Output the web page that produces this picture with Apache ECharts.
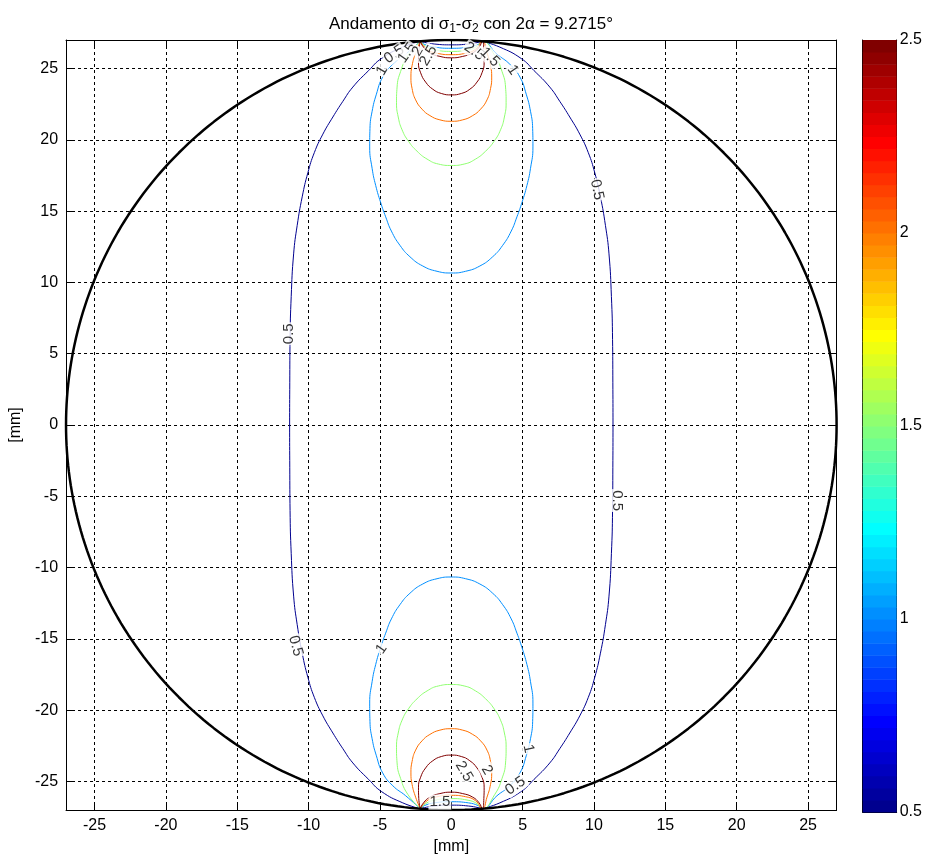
<!DOCTYPE html>
<html>
<head>
<meta charset="utf-8">
<script src="https://cdn.jsdelivr.net/npm/echarts@6/dist/echarts.min.js"></script>
<style>
  html, body { margin: 0; padding: 0; background: #fff; }
  #chart { width: 926px; height: 860px; }
</style>
</head>
<body>
<div id="chart"></div>
<script>
// Disc geometry and axes (mm)
const DISC_RADIUS = 27;
const AXIS_MIN = -27;
const AXIS_MAX = 27;
const AXIS_TICKS = [-25, -20, -15, -10, -5, 0, 5, 10, 15, 20, 25];
const COLORBAR_TICKS = [0.5, 1, 1.5, 2, 2.5];
const COLOR_MIN = 0.5;
const COLOR_MAX = 2.5;

// Contour levels of sigma1 - sigma2
const LEVELS = [0.5, 1, 1.5, 2, 2.5];

// Contour traces in the first quadrant [x, y] (mm). "outer" branches run from the
// symmetry axis out to the edge of the loaded arc; "inner" branches are the shallow
// arcs just under the loaded surface.
const outer05 = [[11.33, 0], [11.32, 3], [11.3, 6], [11.22, 9], [11.05, 12], [10.8, 14], [10.45, 16],
  [10.05, 17.7], [9.6, 19.1], [9.0, 20.4], [8.3, 21.6], [7.6, 22.7], [6.9, 23.7], [5.8, 24.85],
  [4.9, 25.7], [3.4, 26.5], [2.18, 26.91]];
const outer10 = [[0, 10.66], [1.0, 10.78], [2.0, 11.15], [2.9, 11.8], [3.6, 12.6], [4.2, 13.6],
  [4.6, 14.6], [4.95, 15.6], [5.3, 16.8], [5.55, 18.0], [5.72, 19.5], [5.7, 20.8], [5.55, 22.0],
  [5.25, 23.2], [4.81, 24.4], [4.1, 25.3], [3.2, 26.0], [2.18, 26.91]];
const outer15 = [[0, 18.2], [0.9, 18.3], [1.7, 18.65], [2.4, 19.2], [3.0, 19.9], [3.45, 20.7],
  [3.72, 21.6], [3.84, 22.6], [3.8, 23.7], [3.55, 24.8], [3.05, 25.9], [2.18, 26.91]];
const outer20 = [[0, 21.3], [0.8, 21.4], [1.5, 21.7], [2.05, 22.15], [2.5, 22.8], [2.75, 23.6],
  [2.83, 24.4], [2.75, 25.2], [2.5, 26.1], [2.18, 26.91]];
const outer25 = [[0, 23.15], [0.7, 23.25], [1.3, 23.55], [1.8, 24.05], [2.15, 24.7], [2.3, 25.4],
  [2.28, 26.2], [2.18, 26.91]];

const inner05 = [[0, 26.66], [1.2, 26.72], [2.18, 26.91]];
const inner10 = [[0, 26.42], [1.2, 26.5], [1.9, 26.7], [2.18, 26.91]];
const inner15 = [[0, 26.2], [1.1, 26.3], [1.8, 26.55], [2.18, 26.91]];
const inner20 = [[0, 25.97], [1.0, 26.07], [1.7, 26.35], [2.18, 26.91]];
const inner25 = [[0, 25.75], [0.8, 25.85], [1.5, 26.1], [1.95, 26.5], [2.18, 26.91]];

// Contour labels: [x, y, text, rotation in degrees]
const contourLabels = [
  [-4.85, 24.85, '1', 60], [-4.0, 26.0, '0.5', 35], [-3.1, 26.1, '1.5', 55],
  [-2.35, 26.2, '2', 60], [-1.6, 25.9, '2.5', 60],
  [1.6, 26.2, '2.5', -35], [2.7, 25.8, '1.5', -45], [4.3, 24.9, '1', -55],
  [-11.4, 6.4, '0.5', 90], [10.2, 16.5, '0.5', -78], [11.6, -5.3, '0.5', -90],
  [-10.9, -15.5, '0.5', -75], [-4.9, -15.7, '1', 55],
  [0.9, -24.3, '2.5', -60], [2.5, -24.2, '2', -60], [5.4, -22.7, '1', -78],
  [4.5, -25.3, '0.5', 35], [-0.8, -26.45, '1.5', 0]
];

// MATLAB-style jet colormap
function jet(m) {
  const n = Math.ceil(m / 4);
  const u = [];
  for (let i = 1; i <= n; i++) u.push(i / n);
  for (let i = 1; i < n; i++) u.push(1);
  for (let i = n; i >= 1; i--) u.push(i / n);
  const g0 = Math.ceil(n / 2) - (m % 4 === 1 ? 1 : 0);
  const cmap = Array.from({ length: m }, () => [0, 0, 0]);
  u.forEach((v, k) => {
    const g = g0 + k + 1, r = g + n, b = g - n;
    if (g >= 1 && g <= m) cmap[g - 1][1] = v;
    if (r >= 1 && r <= m) cmap[r - 1][0] = v;
    if (b >= 1 && b <= m) cmap[b - 1][2] = v;
  });
  return cmap.map(c => 'rgb(' + c.map(x => Math.round(x * 255)).join(',') + ')');
}
const NCOLORS = 64;
const JET = jet(NCOLORS);
function levelColor(v) {
  const idx = Math.min(NCOLORS - 1, Math.floor((v - COLOR_MIN) / (COLOR_MAX - COLOR_MIN) * NCOLORS));
  return JET[Math.max(0, idx)];
}

// Helpers to unfold quadrant traces over the symmetric disc
const flipX = pts => pts.map(p => [-p[0], p[1]]);
const flipY = pts => pts.map(p => [p[0], -p[1]]);
// from the left end through the axis to the right end
const acrossAxis = q => flipX(q.slice().reverse()).concat(q.slice(1));

function loopsFor(outer, inner) {
  const top = acrossAxis(outer).concat(acrossAxis(inner).reverse().slice(1));
  return [top, flipY(top)];
}
function sideCurvesFor(outer, inner) {
  const right = outer.slice().reverse().concat(flipY(outer).slice(1));
  const topInner = acrossAxis(inner);
  return [right, flipX(right), topInner, flipY(topInner)];
}

const contourPaths = [
  { level: LEVELS[0], paths: sideCurvesFor(outer05, inner05) },
  { level: LEVELS[1], paths: loopsFor(outer10, inner10) },
  { level: LEVELS[2], paths: loopsFor(outer15, inner15) },
  { level: LEVELS[3], paths: loopsFor(outer20, inner20) },
  { level: LEVELS[4], paths: loopsFor(outer25, inner25) }
];

// Disc outline
const circlePts = [];
for (let i = 0; i <= 360; i++) {
  const t = i * Math.PI / 180;
  circlePts.push([DISC_RADIUS * Math.cos(t), DISC_RADIUS * Math.sin(t)]);
}

const FONT = 'Liberation Sans, Arial, Helvetica, sans-serif';
const series = [];
contourPaths.forEach(c => {
  c.paths.forEach(p => {
    series.push({
      type: 'line', xAxisIndex: 0, yAxisIndex: 0, data: p, showSymbol: false, smooth: 0.5,
      lineStyle: { color: levelColor(c.level), width: 1 }, silent: true, z: 3, animation: false
    });
  });
});
series.push({
  type: 'line', xAxisIndex: 0, yAxisIndex: 0, data: circlePts, showSymbol: false,
  lineStyle: { color: '#000', width: 2.5 }, silent: true, z: 5, animation: false
});
series.push({
  type: 'scatter', xAxisIndex: 0, yAxisIndex: 0, symbolSize: 0, z: 6, animation: false, silent: true,
  data: contourLabels.map(l => ({
    value: [l[0], l[1]],
    label: { show: true, position: 'inside', formatter: l[2], rotate: l[3] }
  })),
  label: {
    color: '#000', fontFamily: FONT, fontSize: 15, backgroundColor: '#fff', padding: [0, 1]
  }
});

// Colour bar bands
const bandData = JET.map((c, i) => [i, COLOR_MIN + i * (COLOR_MAX - COLOR_MIN) / NCOLORS,
  COLOR_MIN + (i + 1) * (COLOR_MAX - COLOR_MIN) / NCOLORS]);
series.push({
  type: 'custom', xAxisIndex: 2, yAxisIndex: 2, data: bandData, silent: true, animation: false,
  renderItem: (params, api) => {
    const p0 = api.coord([0, api.value(1)]);
    const p1 = api.coord([1, api.value(2)]);
    return {
      type: 'rect',
      shape: { x: p0[0], y: p1[1], width: p1[0] - p0[0], height: p0[1] - p1[1] + 0.5 },
      style: { fill: JET[api.value(0)] }
    };
  }
});

const axisText = { color: '#000', fontFamily: FONT, fontSize: 16 };
const frameLine = { show: true, onZero: false, lineStyle: { color: '#000', width: 1 } };
const gridDash = { show: true, lineStyle: { color: '#000', width: 1, type: [3, 3] } };

function plotAxis(position, isMain, name) {
  return {
    type: 'value', gridIndex: 0, position: position, min: AXIS_MIN, max: AXIS_MAX,
    axisLine: frameLine,
    axisTick: { show: true, inside: true, length: 7, customValues: AXIS_TICKS, lineStyle: { color: '#000' } },
    axisLabel: isMain ? Object.assign({ show: true, customValues: AXIS_TICKS, margin: 8 }, axisText) : { show: false },
    splitLine: isMain ? gridDash : { show: false },
    name: name || '', nameLocation: 'middle', nameTextStyle: axisText
  };
}

const xMain = plotAxis('bottom', true, '[mm]'); xMain.nameGap = 29;
const xTop = plotAxis('top', false);
const yMain = plotAxis('left', true, '[mm]'); yMain.nameGap = 36;
const yRight = plotAxis('right', false);

const option = {
  backgroundColor: '#fff',
  animation: false,
  title: {
    text: 'Andamento di σ{sub|1}-σ{sub|2} con 2α = 9.2715°',
    left: 466, top: 9, textAlign: 'center',
    textStyle: {
      color: '#000', fontFamily: FONT, fontSize: 17, fontWeight: 'normal',
      rich: {
        sub: { fontFamily: FONT, fontSize: 12, color: '#000', verticalAlign: 'bottom', padding: [9, 0, 0, 0] }
      }
    }
  },
  grid: [
    { left: 65, top: 40, width: 771.6, height: 771 },
    { left: 862.7, top: 40, width: 34, height: 772 }
  ],
  xAxis: [
    xMain, xTop,
    { type: 'value', gridIndex: 1, position: 'bottom', min: 0, max: 1,
      axisLine: frameLine, axisTick: { show: false }, axisLabel: { show: false }, splitLine: { show: false } },
    { type: 'value', gridIndex: 1, position: 'top', min: 0, max: 1,
      axisLine: frameLine, axisTick: { show: false }, axisLabel: { show: false }, splitLine: { show: false } }
  ],
  yAxis: [
    yMain, yRight,
    { type: 'value', gridIndex: 1, position: 'right', min: COLOR_MIN, max: COLOR_MAX, interval: 0.5,
      axisLine: frameLine,
      axisTick: { show: true, inside: true, length: 7, lineStyle: { color: '#000' } },
      axisLabel: Object.assign({ show: true, margin: 3, formatter: v => String(v) }, axisText),
      splitLine: { show: false } },
    { type: 'value', gridIndex: 1, position: 'left', min: COLOR_MIN, max: COLOR_MAX, interval: 0.5,
      axisLine: frameLine,
      axisTick: { show: true, inside: true, length: 7, lineStyle: { color: '#000' } },
      axisLabel: { show: false }, splitLine: { show: false } }
  ],
  series: series
};

const chart = echarts.init(document.getElementById('chart'), null, { renderer: 'canvas' });
chart.setOption(option);
</script>
</body>
</html>
